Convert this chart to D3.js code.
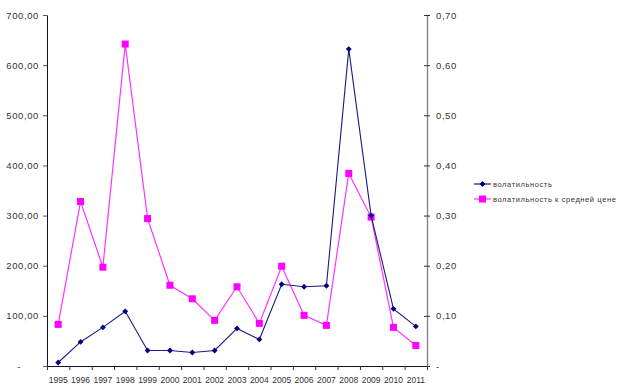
<!DOCTYPE html>
<html>
<head>
<meta charset="utf-8">
<script src="https://cdn.jsdelivr.net/npm/d3@7"></script>
<style>
  body { margin: 0; background: #fff; }
  svg text { font-family: "Liberation Sans", Arial, sans-serif; fill: #333; }
</style>
</head>
<body>
<svg id="chart"></svg>
<script>
// categories and series
const years = ['1995','1996','1997','1998','1999','2000','2001','2002','2003','2004','2005','2006','2007','2008','2009','2010','2011']
const volatility = [7, 48, 77, 109, 31, 31, 27, 31, 75, 53, 163, 158, 160, 632, 300, 114, 79]
const volatilityToPrice = [0.083, 0.328, 0.197, 0.642, 0.294, 0.161, 0.134, 0.091, 0.158, 0.085, 0.199, 0.101, 0.081, 0.384, 0.297, 0.077, 0.041]
const leftTicks = [0, 100, 200, 300, 400, 500, 600, 700]
const rightTicks = [0, 0.1, 0.2, 0.3, 0.4, 0.5, 0.6, 0.7]
const seriesNames = ['волатильность', 'волатильность к средней цене']

const width = 623, height = 388
const margin = {top: 15, right: 196, bottom: 22, left: 47}
const w = width - margin.left - margin.right
const h = height - margin.top - margin.bottom

const svg = d3.select('#chart')
    .attr('width', width)
    .attr('height', height)

const g = svg.append('g')
    .attr('transform', `translate(${margin.left},${margin.top})`)

const x = d3.scaleBand().domain(years).range([0, w]).padding(0)
const xEdges = d3.scaleLinear().domain([0, years.length]).range([0, w])
const yLeft = d3.scaleLinear().domain([0, 700]).range([h, 0])
const yRight = d3.scaleLinear().domain([0, 0.7]).range([h, 0])

const commaFmt = d => d3.format('.2f')(d).replace('.', ',')

// left axis
const leftAxis = g.append('g')
    .call(d3.axisLeft(yLeft).tickValues(leftTicks).tickSize(4).tickSizeOuter(0)
        .tickFormat(d => d === 0 ? '-' : commaFmt(d)))
leftAxis.select('.domain').attr('stroke', '#111133')
leftAxis.selectAll('.tick line').attr('stroke', '#555')
leftAxis.selectAll('.tick text')
    .style('font-size', '9.5px')
    .style('letter-spacing', '0.6px')
    .attr('x', -8)
leftAxis.selectAll('.tick text').filter(d => d === 0).attr('x', -26)

// right axis
const rightAxis = g.append('g')
    .attr('transform', `translate(${w},0)`)
    .call(d3.axisRight(yRight).tickValues(rightTicks).tickSize(3).tickSizeOuter(0)
        .tickFormat(d => d === 0 ? '-' : commaFmt(d)))
rightAxis.select('.domain').attr('stroke', '#808078').attr('stroke-width', 1.3)
rightAxis.selectAll('.tick line').attr('stroke', '#333').attr('x1', -3)
rightAxis.selectAll('.tick text')
    .style('font-size', '9.5px')
    .style('letter-spacing', '0.6px')
    .attr('x', 9)

// x axis, ticks between the categories
const xAxis = g.append('g')
    .attr('transform', `translate(0,${h})`)
    .call(d3.axisBottom(xEdges).ticks(years.length).tickSize(4).tickFormat('').tickSizeOuter(0))
xAxis.select('.domain').attr('stroke', '#111133')
xAxis.selectAll('.tick line').attr('stroke', '#333')

g.append('g')
    .selectAll('text')
    .data(years)
    .join('text')
        .attr('x', d => x(d) + x.bandwidth() / 2)
        .attr('y', h + 17)
        .attr('text-anchor', 'middle')
        .style('font-size', '8.5px')
        .text(d => d)

// lines
const pinkLine = d3.line()
    .x((d, i) => x(years[i]) + x.bandwidth() / 2)
    .y(d => yRight(d))
const blueLine = d3.line()
    .x((d, i) => x(years[i]) + x.bandwidth() / 2)
    .y(d => yLeft(d))

g.append('path')
    .datum(volatilityToPrice)
    .attr('d', pinkLine)
    .attr('fill', 'none')
    .attr('stroke', '#ff33ff')
    .attr('stroke-width', 1.2)

g.selectAll('.pink-pt')
    .data(volatilityToPrice)
    .join('rect')
        .attr('class', 'pink-pt')
        .attr('x', (d, i) => x(years[i]) + x.bandwidth() / 2 - 3.5)
        .attr('y', d => yRight(d) - 3.5)
        .attr('width', 7)
        .attr('height', 7)
        .attr('fill', '#ff00ff')

g.append('path')
    .datum(volatility)
    .attr('d', blueLine)
    .attr('fill', 'none')
    .attr('stroke', '#1a1a80')
    .attr('stroke-width', 1.1)

const diamond = d3.symbol().type(d3.symbolDiamond2).size(22)
g.selectAll('.blue-pt')
    .data(volatility)
    .join('path')
        .attr('class', 'blue-pt')
        .attr('transform', (d, i) => `translate(${x(years[i]) + x.bandwidth() / 2},${yLeft(d)})`)
        .attr('d', diamond)
        .attr('fill', '#000080')

// legend
const legend = svg.append('g').attr('transform', 'translate(474,184)')
const legendRow = legend.selectAll('g')
    .data(seriesNames)
    .join('g')
        .attr('transform', (d, i) => `translate(0,${i * 15})`)

legendRow.append('line')
    .attr('x1', 0).attr('x2', 17)
    .attr('stroke', (d, i) => i === 0 ? '#1a1a80' : '#ff33ff')
    .attr('stroke-width', 1.2)

legendRow.filter((d, i) => i === 0).append('path')
    .attr('transform', 'translate(8.5,0)')
    .attr('d', diamond)
    .attr('fill', '#000080')

legendRow.filter((d, i) => i === 1).append('rect')
    .attr('x', 5).attr('y', -3.5).attr('width', 7).attr('height', 7)
    .attr('fill', '#ff00ff')

legendRow.append('text')
    .attr('x', 19)
    .attr('dy', '0.35em')
    .style('font-size', '7.5px')
    .style('letter-spacing', '0.6px')
    .text(d => d)
</script>
</body>
</html>
